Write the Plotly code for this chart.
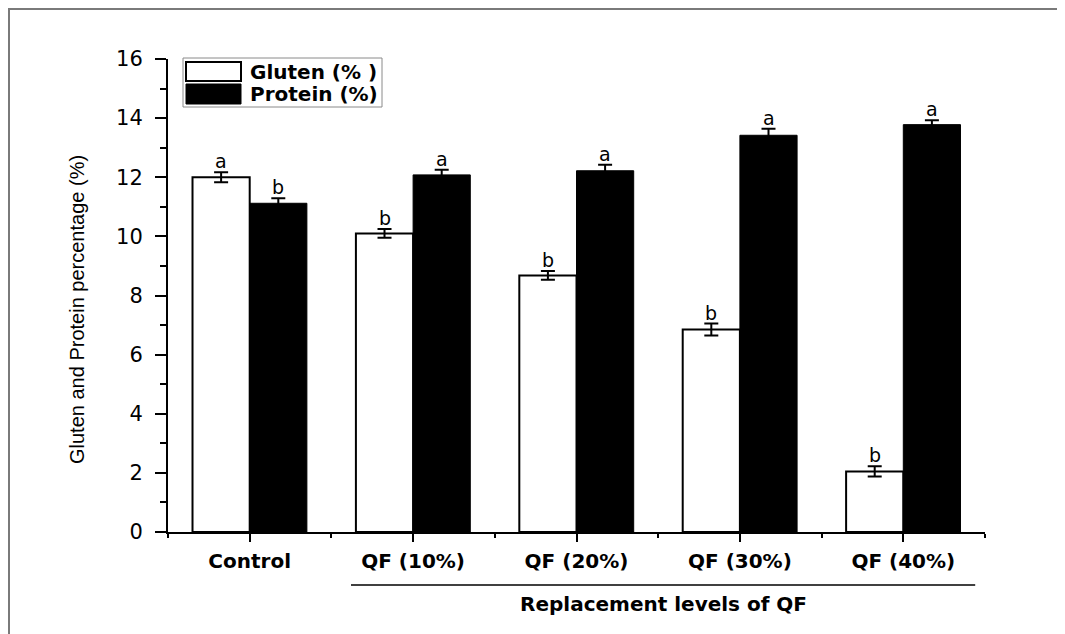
import plotly.graph_objects as go

categories = ["Control", "QF (10%)", "QF (20%)", "QF (30%)", "QF (40%)"]
series_names = ["Gluten (% )", "Protein (%)"]
gluten = [12.0, 10.1, 8.68, 6.85, 2.05]
gluten_err = [0.17, 0.15, 0.15, 0.2, 0.17]
protein = [11.12, 12.08, 12.22, 13.42, 13.78]
protein_err = [0.17, 0.17, 0.2, 0.22, 0.15]
gluten_letters = ["a", "b", "b", "b", "b"]
protein_letters = ["b", "a", "a", "a", "a"]
y_ticks = [0, 2, 4, 6, 8, 10, 12, 14, 16]
y_title = "Gluten and Protein percentage (%)"
x_group_title = "Replacement levels of QF"

W, H = 1065, 634
OFF = 8  # page body offset of the rendered figure
# plot area in screen pixels: x 168..985, y 59..532
SX0, SX1, SY0, SY1 = 168, 985, 59, 532
ML, MT = SX0 - OFF, SY0 - OFF
MR, MB = W - (SX1 - OFF), H - (SY1 - OFF)
PW, PH = SX1 - SX0, SY1 - SY0

def px_x(p):
    return (p - SX0) / PW

def px_y(p):
    return (SY1 - p) / PH

BAR_W = 0.35
xs = list(range(len(categories)))

fig = go.Figure()
fig.add_trace(go.Bar(
    x=xs, y=gluten, name=series_names[0], width=BAR_W, offset=-BAR_W,
    marker=dict(color="white", line=dict(color="black", width=2)),
    error_y=dict(type="data", array=gluten_err, color="black", thickness=2, width=7),
    showlegend=False,
))
fig.add_trace(go.Bar(
    x=xs, y=protein, name=series_names[1], width=BAR_W, offset=0,
    marker=dict(color="black", line=dict(color="black", width=1)),
    error_y=dict(type="data", array=protein_err, color="black", thickness=2, width=7),
    showlegend=False,
))

annotations = []
for i in xs:
    annotations.append(dict(x=i - BAR_W / 2, y=gluten[i] + gluten_err[i], xref="x", yref="y",
                            text=gluten_letters[i], showarrow=False, yanchor="bottom", yshift=-2,
                            font=dict(family="DejaVu Sans", size=19, color="black")))
    annotations.append(dict(x=i + BAR_W / 2, y=protein[i] + protein_err[i], xref="x", yref="y",
                            text=protein_letters[i], showarrow=False, yanchor="bottom", yshift=-2,
                            font=dict(family="DejaVu Sans", size=19, color="black")))

# y-axis title
annotations.append(dict(x=px_x(77), y=px_y(310), xref="paper", yref="paper", text=y_title,
                        textangle=-90, showarrow=False, xanchor="center", yanchor="middle",
                        font=dict(family="Liberation Sans, Arial", size=20, color="black")))
# group title
annotations.append(dict(x=2.53, y=px_y(604), xref="x", yref="paper",
                        text="<b>" + x_group_title + "</b>", showarrow=False,
                        xanchor="center", yanchor="middle",
                        font=dict(family="DejaVu Sans", size=20, color="black")))
# legend texts
annotations.append(dict(x=px_x(248), y=px_y(72), xref="paper", yref="paper",
                        text="<b>" + series_names[0] + "</b>", showarrow=False,
                        xanchor="left", yanchor="middle",
                        font=dict(family="DejaVu Sans", size=20, color="black")))
annotations.append(dict(x=px_x(248), y=px_y(94), xref="paper", yref="paper",
                        text="<b>" + series_names[1] + "</b>", showarrow=False,
                        xanchor="left", yanchor="middle",
                        font=dict(family="DejaVu Sans", size=20, color="black")))

shapes = [
    # outer frame (kept just inside the canvas)
    dict(type="rect", xref="paper", yref="paper", x0=px_x(OFF + 1), y0=px_y(700), x1=px_x(1100), y1=px_y(OFF + 1),
         line=dict(color="#7a7a7a", width=2), fillcolor="rgba(0,0,0,0)", layer="below"),
    # group bracket line
    dict(type="line", xref="x", yref="paper", x0=0.62, x1=4.44, y0=px_y(585), y1=px_y(585),
         line=dict(color="black", width=1.5)),
    # legend box
    dict(type="rect", xref="paper", yref="paper", x0=px_x(183), y0=px_y(107), x1=px_x(382), y1=px_y(58),
         line=dict(color="#8a8a8a", width=1), fillcolor="white"),
    dict(type="rect", xref="paper", yref="paper", x0=px_x(186), y0=px_y(81), x1=px_x(241), y1=px_y(62),
         line=dict(color="black", width=2), fillcolor="white"),
    dict(type="rect", xref="paper", yref="paper", x0=px_x(186), y0=px_y(104), x1=px_x(241), y1=px_y(84),
         line=dict(color="black", width=1), fillcolor="black"),
]

fig.update_layout(
    width=W, height=H,
    margin=dict(l=ML, r=MR, t=MT, b=MB),
    paper_bgcolor="white", plot_bgcolor="white",
    barmode="overlay",
    annotations=annotations,
    shapes=shapes,
    xaxis=dict(
        range=[-0.5, 4.5], tickmode="array", tickvals=xs,
        ticktext=["<b>" + c + "</b>" for c in categories],
        showline=True, linecolor="black", linewidth=2,
        ticks="outside", ticklen=8, tickwidth=2, tickcolor="black",
        minor=dict(tickmode="array", tickvals=[i - 0.5 for i in xs] + [xs[-1] + 0.5],
                   ticks="outside", ticklen=4, tickwidth=2, tickcolor="black"),
        showgrid=False, zeroline=False, ticklabelstandoff=2,
        tickfont=dict(family="DejaVu Sans", size=20, color="black"),
    ),
    yaxis=dict(
        range=[0, 16], tickmode="array", tickvals=y_ticks,
        showline=True, linecolor="black", linewidth=2,
        ticks="outside", ticklen=11, tickwidth=2, tickcolor="black",
        minor=dict(tickmode="linear", tick0=1, dtick=2, ticks="outside", ticklen=6,
                   tickwidth=2, tickcolor="black"),
        showgrid=False, zeroline=False, ticklabelstandoff=8,
        tickfont=dict(family="DejaVu Sans", size=21, color="black"),
    ),
)

fig.write_html("out.html")
